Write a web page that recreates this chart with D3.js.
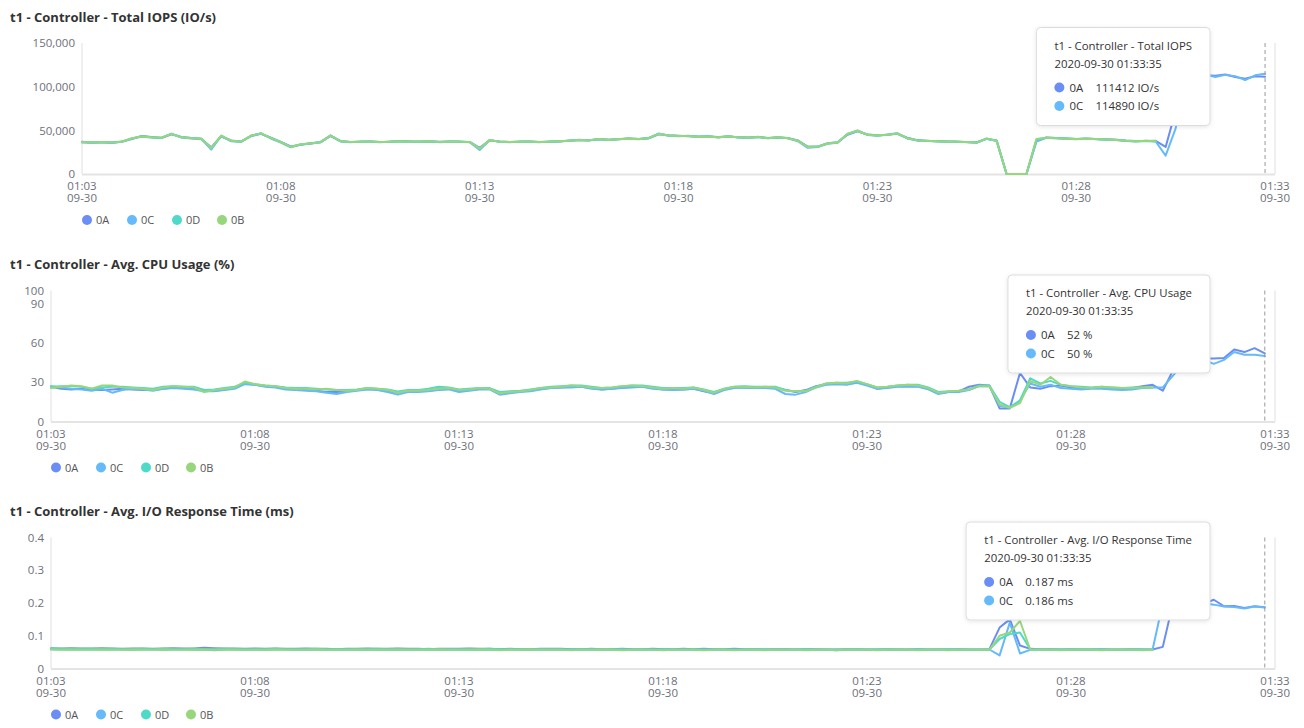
<!DOCTYPE html>
<html><head><meta charset="utf-8">
<script src="https://cdn.jsdelivr.net/npm/d3@7"></script>
<style>
body{margin:0;background:#fff;}
svg{display:block;font-family:"Open Sans","Noto Sans",sans-serif;}
</style>
</head><body>
<svg id="c" width="1304" height="728"></svg>
<script>
// ---------- DATA ----------
const seriesNames = ["0A", "0C", "0D", "0B"];
const seriesColors = ["#6b8ef4", "#66baf9", "#4fd9c9", "#98d67c"];
const startTime = "2020-09-30 01:03:50";
const sampleSeconds = 15;
const sampleCount = 120;

const iopsTicks = [0, 50000, 100000, 150000];
const cpuTicks = [0, 30, 60, 90, 100];
const rtTicks = [0, 0.1, 0.2, 0.3, 0.4];

const iops0A = [36800,36200,36300,36200,36800,40000,43500,42300,41200,45500,
42300,41200,40000,30500,43000,38500,37200,43500,46000,41500,
36800,31500,33500,35300,36300,43500,37800,36700,36800,37200,
36700,36800,37800,37200,36800,37300,36800,37200,36800,36700,
30000,38500,37200,36700,36800,37200,36700,36800,37300,38300,
38800,38700,39700,39200,39800,40700,40200,40800,45500,44300,
43700,43200,42800,42800,42300,42800,42200,41700,42300,41300,
41800,41200,38500,31500,31200,35300,36300,45000,49000,45300,
44300,44800,46000,41500,38800,37800,37800,37200,36800,36700,
36300,40200,38500,0,0,0,38000,41800,41200,40700,
40200,40300,40200,39700,39200,38300,37700,37800,38000,
31000,72000,110000,112000,113000,112500,114000,111000,109000,112000,111412];
const iops0C = [36200,35800,36600,35500,36900,40500,42700,41700,41300,46300,
41700,40700,40200,28000,43500,37500,36700,43700,46800,40700,
36000,30500,33800,34700,36700,44300,37200,36300,37100,36800,
36300,37200,37300,36800,37200,37600,36300,36800,37100,36300,
27500,38700,36800,36300,37100,36800,36300,37200,37600,37800,
39200,38300,40200,38800,40200,40300,39800,41200,46300,43800,
43300,43700,42300,43200,41800,43200,41800,41300,42700,40800,
42200,40800,37500,30000,31000,34700,35800,45500,49800,44700,
43800,45200,46800,40700,38200,38200,37300,36800,37200,36300,
35800,40700,37700,0,0,0,37000,41300,40800,40300,
39800,40700,39800,39300,38800,37800,37300,38200,37200,
21000,52000,106000,113000,114000,111000,113500,112000,107500,113000,114890];
const iops0D = [36600,36100,36400,36100,37100,40800,43100,42100,41600,45800,
42100,41100,40600,29800,43800,38200,37100,43800,46300,41200,
36600,31200,33900,35100,36400,43800,37600,36600,36900,37100,
36600,36900,37600,37100,36900,37400,36600,37100,36900,36600,
29300,38800,37100,36600,36900,37100,36600,36900,37400,38100,
38900,38600,39900,39100,39900,40600,40100,40900,45800,44100,
43600,43400,42600,42900,42100,42900,42100,41600,42400,41100,
41900,41100,38200,31200,31400,35100,36100,45800,49300,45100,
44100,44900,46300,41200,38600,37900,37600,37100,36900,36600,
36100,40400,38100,0,0,0,39500,41600,41100,40600,
40100,40400,40100,39600,39100,38100,37600,37900,37600];
const iops0B = [36500,36000,36500,36000,37000,41000,43000,42000,41500,46000,
42000,41000,40500,29500,44000,38000,37000,44000,46500,41000,
36500,31000,34000,35000,36500,44000,37500,36500,37000,37000,
36500,37000,37500,37000,37000,37500,36500,37000,37000,36500,
29000,39000,37000,36500,37000,37000,36500,37000,37500,38000,
39000,38500,40000,39000,40000,40500,40000,41000,46000,44000,
43500,43500,42500,43000,42000,43000,42000,41500,42500,41000,
42000,41000,38000,31000,31500,35000,36000,46000,49500,45000,
44000,45000,46500,41000,38500,38000,37500,37000,37000,36500,
36000,40500,38000,0,0,0,40000,41500,41000,40500,
40000,40500,40000,39500,39000,38000,37500,38000,37500];

const cpu0A = [26.5,25,24.5,25,24,24,24.5,25,24.5,24,
24,25,26,25.5,25,24,23.5,24.5,26,29,
28,27,26.5,25,24.5,24,23.5,22.5,22.5,23,
24,25,24.5,23,22,23,23,23.5,24.5,25,
23,24,25,25,21,22,23,23.5,25,25.5,
26,26.5,26.5,25.5,24.5,25,26,26.5,26.5,25.5,
24.5,24.5,24.5,25,23,21.5,24.5,26,26,25.5,
25.5,26,24,22.5,24,27,28.5,29,28.5,30,
28,25,26,27,27,27,25,21.5,22.5,23,
26.5,28,27.5,10,10,37,26,25,27,27.5,
26,25,25.5,26,25.5,25,25.5,27,28,
23.5,39,45,47,48,48,48.5,55,53,56,52];
const cpu0C = [27,26,25,24.5,23.5,25,22,24,25,24.5,
23.5,25,25.5,25,24.5,23,23,24,25,28.5,
28,26.5,26,24.5,24,23.5,23,22,21,22.5,
23.5,24.5,24,22.5,20.5,22.5,22.5,23,24,24.5,
22.5,23.5,24.5,24.5,20.5,21.5,22.5,23,24.5,25.5,
26,26,26.5,25,24.5,25,25.5,26,26.5,25,
24.5,24,24.5,25,23.5,21,24,25.5,26,25.5,
25.5,25,21,20.5,22.5,26,28,28.5,28,29.5,
27.5,25,25.5,26.5,26.5,26.5,24.5,21,22.5,22.5,
24,27,27,12,10.5,16,29,26.5,28,25.5,
25,24.5,25,25,24.5,24,24.5,25.5,26,
26,35,44,46,47,44,47,53,51,51,50];
const cpu0D = [26.5,27,27,26.5,25,26,26.5,26.5,26,25.5,
25,26.5,27,26.5,26.5,24,24.5,25.5,26.5,29.5,
28.5,27.5,27,26,25.5,25.5,25,24.5,24,24,
24.5,25.5,25,24.5,23,24,24,25,26.5,26,
24.5,25,25.5,25.5,22.5,23,23.5,24.5,25.5,26.5,
27,27.5,27.5,26.5,25.5,26,27,27.5,27.5,26.5,
25.5,25.5,25.5,26,24.5,22.5,25,26.5,27,26.5,
26.5,26.5,24,23,23.5,26.5,29,29.5,29.5,30.5,
28.5,26,26.5,27.5,28,28,26,22.5,23,23.5,
24.5,27.5,27.5,15,11,16,33,29,31,28,
27,26.5,26,26.5,26,25.5,26,26,26];
const cpu0B = [25.5,26.5,27.5,27,25,27.5,27.5,26,25.5,25,
24,26,27,26.5,26,22.5,24,25,26,30.5,
28.5,27.5,27,25.5,25,25,24.5,25,24,23.5,
24,25.5,25,24,22,23.5,23.5,24,25,25.5,
24,24.5,25.5,25,21.5,22.5,23,24,25.5,26,
26.5,27.5,27,26,25.5,26,27,27.5,27,26,
25,25.5,25,26,24,22,25,26.5,26.5,26,
26.5,26,23.5,23,23,26,29,29.5,29,31,
28.5,26,26.5,27.5,28,27.5,25.5,22,23,23.5,
24.5,27,27,13,10.5,14,31,28,34,28,
27,26,25.5,26.5,26,25.5,25.5,26,26];

const rt0A = [0.062,0.061,0.062,0.061,0.061,0.062,0.061,0.060,0.061,0.061,
0.060,0.061,0.062,0.061,0.061,0.063,0.062,0.061,0.061,0.060,
0.061,0.060,0.061,0.060,0.060,0.061,0.060,0.060,0.059,0.060,
0.060,0.061,0.060,0.060,0.061,0.060,0.060,0.059,0.060,0.060,
0.060,0.061,0.060,0.060,0.059,0.060,0.059,0.059,0.060,0.060,
0.060,0.059,0.059,0.060,0.059,0.059,0.060,0.059,0.059,0.060,
0.059,0.059,0.060,0.059,0.060,0.059,0.059,0.060,0.059,0.059,
0.058,0.059,0.059,0.058,0.059,0.059,0.058,0.058,0.059,0.059,
0.058,0.058,0.059,0.058,0.058,0.059,0.058,0.058,0.058,0.059,
0.058,0.058,0.059,0.125,0.150,0.070,0.060,0.059,0.059,0.058,
0.059,0.058,0.058,0.059,0.058,0.058,0.059,0.058,0.058,
0.066,0.200,0.205,0.200,0.198,0.210,0.190,0.191,0.185,0.190,0.187];
const rt0C = [0.059,0.058,0.059,0.058,0.058,0.059,0.058,0.058,0.057,0.058,
0.058,0.057,0.058,0.058,0.057,0.058,0.056,0.058,0.058,0.057,
0.058,0.057,0.058,0.058,0.057,0.058,0.057,0.057,0.058,0.057,
0.057,0.058,0.057,0.058,0.057,0.057,0.058,0.057,0.057,0.058,
0.057,0.057,0.058,0.057,0.057,0.058,0.057,0.057,0.058,0.057,
0.057,0.058,0.057,0.057,0.058,0.057,0.057,0.057,0.058,0.057,
0.057,0.058,0.057,0.057,0.057,0.058,0.057,0.057,0.057,0.058,
0.057,0.057,0.057,0.058,0.057,0.057,0.057,0.056,0.057,0.057,
0.057,0.057,0.058,0.057,0.057,0.057,0.057,0.058,0.057,0.057,
0.057,0.057,0.058,0.040,0.140,0.046,0.057,0.057,0.058,0.057,
0.057,0.057,0.058,0.057,0.057,0.057,0.057,0.057,0.058,
0.200,0.205,0.200,0.198,0.200,0.195,0.189,0.188,0.183,0.189,0.186];
const rt0D = [0.060,0.060,0.059,0.060,0.060,0.059,0.060,0.059,0.059,0.060,
0.059,0.060,0.059,0.059,0.060,0.059,0.059,0.060,0.059,0.059,
0.059,0.059,0.060,0.059,0.059,0.059,0.060,0.059,0.059,0.059,
0.059,0.059,0.060,0.059,0.059,0.059,0.059,0.060,0.059,0.059,
0.059,0.059,0.059,0.060,0.059,0.059,0.059,0.058,0.059,0.059,
0.059,0.058,0.059,0.059,0.058,0.059,0.059,0.058,0.059,0.058,
0.059,0.058,0.058,0.059,0.058,0.058,0.059,0.058,0.058,0.058,
0.059,0.058,0.058,0.058,0.059,0.058,0.058,0.058,0.058,0.059,
0.058,0.058,0.058,0.059,0.058,0.058,0.058,0.058,0.059,0.058,
0.058,0.058,0.058,0.090,0.105,0.110,0.059,0.058,0.058,0.058,
0.058,0.059,0.058,0.058,0.058,0.058,0.059,0.058,0.058];
const rt0B = [0.058,0.057,0.058,0.057,0.057,0.058,0.057,0.057,0.058,0.057,
0.057,0.058,0.057,0.057,0.057,0.058,0.057,0.057,0.058,0.057,
0.057,0.057,0.058,0.057,0.057,0.057,0.058,0.057,0.057,0.057,
0.058,0.057,0.057,0.057,0.058,0.057,0.057,0.057,0.058,0.057,
0.057,0.057,0.058,0.057,0.056,0.057,0.057,0.058,0.057,0.057,
0.057,0.056,0.057,0.057,0.058,0.057,0.056,0.057,0.057,0.057,
0.056,0.057,0.057,0.057,0.056,0.057,0.057,0.056,0.057,0.057,
0.056,0.057,0.057,0.057,0.056,0.057,0.057,0.056,0.057,0.057,
0.057,0.056,0.057,0.057,0.057,0.056,0.057,0.057,0.056,0.057,
0.057,0.057,0.057,0.100,0.110,0.145,0.058,0.057,0.057,0.056,
0.057,0.057,0.057,0.056,0.057,0.057,0.057,0.056,0.057];

// ---------- CHART DEFINITIONS ----------
const charts = [
  {title: "t1 - Controller - Total IOPS (IO/s)", tipTitle: "t1 - Controller - Total IOPS",
   ticks: iopsTicks, tickFmt: d3.format(","), valFmt: v => d3.format("d")(v) + " IO/s",
   series: [iops0A, iops0C, iops0D, iops0B], tipSeries: [0, 1]},
  {title: "t1 - Controller - Avg. CPU Usage (%)", tipTitle: "t1 - Controller - Avg. CPU Usage",
   ticks: cpuTicks, tickFmt: d3.format("d"), valFmt: v => d3.format("d")(v) + " %",
   series: [cpu0A, cpu0C, cpu0D, cpu0B], tipSeries: [0, 1]},
  {title: "t1 - Controller - Avg. I/O Response Time (ms)", tipTitle: "t1 - Controller - Avg. I/O Response Time",
   ticks: rtTicks, tickFmt: d => d === 0 ? "0" : d3.format(".1f")(d), valFmt: v => d3.format(".3f")(v) + " ms",
   series: [rt0A, rt0C, rt0D, rt0B], tipSeries: [0, 1]}
];

// ---------- LAYOUT ----------
const layout = [
  {titleY: 17, left: 82},
  {titleY: 264.5, left: 51},
  {titleY: 511.5, left: 51}
];
const plotRight = 1275;
const tipRight = 1210;

const parse = d3.timeParse("%Y-%m-%d %H:%M:%S");
const t0 = parse(startTime);
const times = d3.range(sampleCount).map(i => new Date(t0.getTime() + i * sampleSeconds * 1000));
const tEnd = new Date(t0.getTime() + 30 * 60 * 1000);
const tickTimes = d3.range(7).map(k => new Date(t0.getTime() + k * 5 * 60 * 1000));
const fmtHM = d3.timeFormat("%H:%M"), fmtMD = d3.timeFormat("%m-%d"), fmtFull = d3.timeFormat("%Y-%m-%d %H:%M:%S");

const svg = d3.select("#c");
const defs = svg.append("defs");
const f = defs.append("filter").attr("id", "sh").attr("x", "-10%").attr("y", "-10%").attr("width", "120%").attr("height", "130%");
f.append("feDropShadow").attr("dx", 0).attr("dy", 1).attr("stdDeviation", 2).attr("flood-color", "#000").attr("flood-opacity", 0.10);

charts.forEach((c, ci) => {
  const L = layout[ci];
  const top = L.titleY + 26, bottom = L.titleY + 157;
  const g = svg.append("g");
  const x = d3.scaleTime().domain([t0, tEnd]).range([L.left, plotRight]);
  const y = d3.scaleLinear().domain([0, d3.max(c.ticks)]).range([bottom, top]);

  g.append("text").attr("x", 10).attr("y", L.titleY + 4.5)
    .attr("font-size", 13).attr("font-weight", 700).attr("fill", "#333").text(c.title);

  // axes lines
  g.append("line").attr("x1", L.left).attr("x2", L.left).attr("y1", top).attr("y2", bottom)
    .attr("stroke", "#e0e0e0").attr("stroke-width", 1);
  g.append("line").attr("x1", plotRight).attr("x2", plotRight).attr("y1", top).attr("y2", bottom)
    .attr("stroke", "#e0e0e0").attr("stroke-width", 1);
  g.append("line").attr("x1", L.left).attr("x2", plotRight).attr("y1", bottom + 0.5).attr("y2", bottom + 0.5)
    .attr("stroke", "#e4e4e4").attr("stroke-width", 2);

  // y ticks
  const yAxis = d3.axisLeft(y).tickValues(c.ticks).tickFormat(c.tickFmt).tickSize(0).tickPadding(7);
  const ya = g.append("g").attr("transform", `translate(${L.left},0)`).call(yAxis);
  ya.select(".domain").remove();
  ya.selectAll("text").attr("font-size", 11.5).attr("fill", "#6e7079").attr("font-family", "'Open Sans',sans-serif");

  // x ticks (two lines)
  const xa = g.append("g");
  tickTimes.forEach(t => {
    const tx = xa.append("text").attr("x", x(t)).attr("text-anchor", "middle")
      .attr("font-size", 11.5).attr("fill", "#6e7079");
    tx.append("tspan").attr("x", x(t)).attr("y", bottom + 16).text(fmtHM(t));
    tx.append("tspan").attr("x", x(t)).attr("y", bottom + 28).text(fmtMD(t));
  });

  // lines
  c.series.forEach((s, si) => {
    const line = d3.line().defined(d => d != null).x((d, i) => x(times[i])).y(d => y(d));
    g.append("path").datum(times.map((t, i) => s[i] == null ? null : s[i]))
      .attr("d", line).attr("fill", "none").attr("stroke", seriesColors[si])
      .attr("stroke-width", 2).attr("stroke-linejoin", "round").attr("stroke-linecap", "round");
  });

  // axis pointer
  const tipIdx = sampleCount - 1;
  const px = x(times[tipIdx]);
  g.append("line").attr("x1", px).attr("x2", px).attr("y1", top).attr("y2", bottom)
    .attr("stroke", "#999").attr("stroke-width", 1).attr("stroke-dasharray", "4,3");

  // legend
  seriesNames.forEach((n, si) => {
    const lx = L.left + 5 + si * 45, ly = bottom + 46;
    g.append("circle").attr("cx", lx).attr("cy", ly).attr("r", 5).attr("fill", seriesColors[si]);
    g.append("text").attr("x", lx + 9).attr("y", ly + 4).attr("font-size", 11).attr("fill", "#555").text(n);
  });

  // tooltip
  const tg = svg.append("g");
  const boxTop = top - 15.5;
  const rect = tg.append("rect").attr("rx", 4).attr("ry", 4).attr("fill", "#fff")
    .attr("stroke", "#dcdcdc").attr("stroke-width", 1).attr("filter", "url(#sh)");
  const tt = tg.append("text").attr("y", boxTop + 22).attr("font-size", 11.4).attr("fill", "#333").text(c.tipTitle);
  const w = tt.node().getComputedTextLength() + 36;
  const bl = tipRight - w;
  rect.attr("x", bl).attr("y", boxTop).attr("width", w).attr("height", 98);
  tt.attr("x", bl + 18);
  tg.append("text").attr("x", bl + 18).attr("y", boxTop + 40).attr("font-size", 11.4).attr("fill", "#333")
    .text(fmtFull(times[tipIdx]));
  c.tipSeries.forEach((si, k) => {
    const ry = boxTop + 60 + k * 18.5;
    tg.append("circle").attr("cx", bl + 23).attr("cy", ry).attr("r", 5).attr("fill", seriesColors[si]);
    tg.append("text").attr("x", bl + 33).attr("y", ry + 4).attr("font-size", 11.4).attr("fill", "#333").text(seriesNames[si]);
    tg.append("text").attr("x", bl + 59).attr("y", ry + 4).attr("font-size", 11.4).attr("fill", "#333")
      .text(c.valFmt(c.series[si][tipIdx]));
  });
});
</script>
</body></html>
